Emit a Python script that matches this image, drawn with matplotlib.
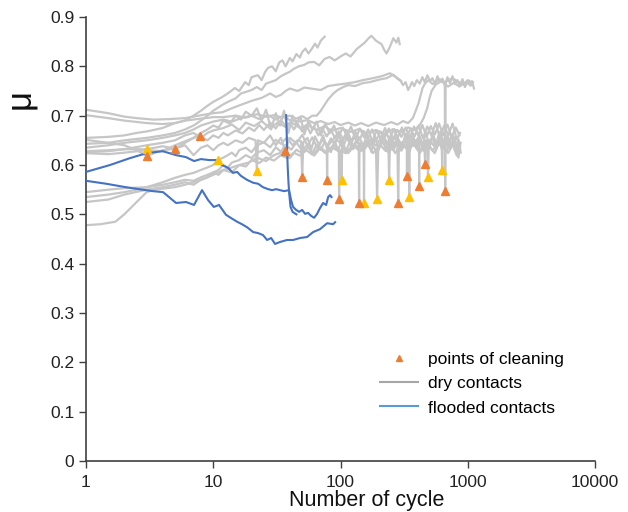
import matplotlib
matplotlib.use("Agg")
import matplotlib.pyplot as plt
from matplotlib.lines import Line2D
from matplotlib.ticker import FixedLocator, NullLocator

plt.rcParams["font.family"] = ["Liberation Sans", "DejaVu Sans"]

# ---- dry contacts (friction coefficient vs. cycle) ----
dry_1_cycles = [1, 1.5, 2, 2.5, 3, 4, 5, 6, 7, 8, 9, 10, 11.8, 13, 14.8, 16, 17.8, 19, 20, 22.4, 24, 25.6, 27, 29, 31, 33, 35, 37, 40, 42, 45, 48, 50, 53, 56, 60, 63, 66, 70, 75]
dry_1_mu = [0.655, 0.657, 0.66, 0.665, 0.668, 0.675, 0.685, 0.69, 0.70, 0.71, 0.72, 0.728, 0.738, 0.745, 0.756, 0.75, 0.768, 0.762, 0.778, 0.782, 0.772, 0.789, 0.797, 0.80, 0.79, 0.808, 0.812, 0.80, 0.817, 0.81, 0.825, 0.818, 0.829, 0.836, 0.826, 0.837, 0.846, 0.838, 0.852, 0.86]

dry_2_cycles = [1, 1.5, 2, 3, 4, 5, 6, 7, 8, 9, 10, 11.8, 13.5, 15, 16.5, 18, 20, 22, 24, 26, 28, 31, 34, 37, 40, 43, 47, 52, 56, 62, 68, 75, 82, 90, 100, 110, 120, 134, 145, 155, 165, 175, 190, 210, 220, 230, 245, 260, 275, 285, 292]
dry_2_mu = [0.643, 0.645, 0.65, 0.655, 0.66, 0.665, 0.672, 0.68, 0.69, 0.70, 0.71, 0.722, 0.73, 0.735, 0.745, 0.748, 0.752, 0.758, 0.752, 0.765, 0.768, 0.772, 0.78, 0.785, 0.789, 0.795, 0.80, 0.803, 0.808, 0.809, 0.802, 0.815, 0.819, 0.812, 0.82, 0.826, 0.82, 0.835, 0.842, 0.848, 0.856, 0.862, 0.852, 0.845, 0.834, 0.826, 0.84, 0.857, 0.848, 0.858, 0.845]

dry_3_cycles = [1, 1.5, 2, 2.5, 3.4, 4.5, 6, 8.5, 10, 11.8, 14, 16.5, 20, 24, 28, 31, 34, 37, 40, 46, 52, 62, 70, 80, 95, 110, 130, 150, 180, 210, 245, 270,
                294, 310, 325, 340, 350, 365, 380, 398, 420, 440, 460, 482, 505, 528, 552, 578, 605, 633, 662, 693, 725, 758, 793, 830,
                868, 908, 950, 994, 1040, 1080, 1120]
dry_3_mu = [0.712, 0.705, 0.698, 0.695, 0.692, 0.693, 0.695, 0.702, 0.705, 0.707, 0.715, 0.722, 0.73, 0.736, 0.745, 0.738, 0.742, 0.75, 0.755, 0.75, 0.757, 0.754, 0.752, 0.76, 0.763, 0.765, 0.768, 0.772, 0.776, 0.78, 0.786, 0.779,
            0.772, 0.762, 0.768, 0.752, 0.758, 0.768, 0.76, 0.772, 0.765, 0.778, 0.768, 0.782, 0.77, 0.776, 0.764, 0.78, 0.768, 0.775, 0.762, 0.778, 0.766, 0.78, 0.764, 0.772,
            0.76, 0.774, 0.758, 0.768, 0.762, 0.77, 0.755]

dry_4_cycles = [1, 1.5, 2, 3, 4, 5, 6, 8, 10, 12, 15, 18, 22, 26, 30, 35, 40, 45, 50, 55, 60, 65, 70, 75, 80, 88, 95, 105, 115, 130, 150, 170, 200, 230, 260, 280, 300]
dry_4_mu = [0.701, 0.695, 0.69, 0.685, 0.683, 0.685, 0.69, 0.694, 0.697, 0.697, 0.70, 0.696, 0.703, 0.698, 0.701, 0.696, 0.70, 0.694, 0.699, 0.693, 0.70, 0.70, 0.71, 0.722, 0.733, 0.745, 0.752, 0.758, 0.762, 0.76, 0.766, 0.768, 0.773, 0.776, 0.783, 0.775, 0.77]

dry_5_cycles = [1, 1.5, 2, 3, 4, 5, 6, 7, 8, 10, 12, 14, 17, 20, 23, 27, 31, 35, 40, 48, 55, 62, 70, 80, 90, 100, 115, 130, 145, 165, 190, 220, 250, 280, 310, 340, 370, 390, 410, 425, 440, 460, 490, 530, 600, 655, 660, 665, 670, 680, 760, 850, 930, 1000, 1050, 1100]
dry_5_mu = [0.635, 0.64, 0.645, 0.65, 0.655, 0.66, 0.665, 0.672, 0.68, 0.688, 0.692, 0.688, 0.696, 0.70, 0.693, 0.701, 0.692, 0.699, 0.691, 0.688, 0.691, 0.685, 0.689, 0.683, 0.687, 0.681, 0.686, 0.68, 0.685, 0.679, 0.686, 0.681, 0.687, 0.682, 0.689, 0.685, 0.695, 0.71, 0.725, 0.74, 0.755, 0.765, 0.772, 0.764, 0.774, 0.768, 0.766, 0.547, 0.765, 0.77, 0.776, 0.768, 0.764, 0.772, 0.761, 0.768]

dry_6_cycles = [1, 1.5, 2, 3, 4, 5, 6, 7, 8, 9, 10, 12, 14, 16, 18, 21, 24, 28, 32, 37, 42, 48, 55, 65, 75, 85, 100, 120, 140, 160, 190, 220, 260, 300, 340, 380, 420, 450, 480, 500, 520, 560, 620, 700, 780, 860, 950, 1030, 1080]
dry_6_mu = [0.626, 0.628, 0.632, 0.64, 0.645, 0.65, 0.66, 0.665, 0.655, 0.665, 0.67, 0.675, 0.682, 0.671, 0.686, 0.679, 0.689, 0.674, 0.686, 0.677, 0.685, 0.675, 0.681, 0.671, 0.679, 0.669, 0.675, 0.667, 0.673, 0.664, 0.671, 0.663, 0.673, 0.667, 0.676, 0.671, 0.681, 0.695, 0.715, 0.735, 0.75, 0.763, 0.77, 0.759, 0.767, 0.759, 0.767, 0.771, 0.762]

dry_7_cycles = [1, 1.5, 2, 3, 4, 5, 6, 7, 8, 9, 10, 10.9, 12, 13, 14, 15, 16, 18, 20, 22, 25, 28, 31, 34, 38, 42, 46,
                49, 50, 51, 55, 59, 63, 68, 73, 78, 84, 90, 97, 104, 112, 120, 129, 135, 139, 140, 141, 150, 161, 173, 186,
                200, 215, 231, 248, 266, 280, 284, 288, 305, 325, 347, 370, 395, 414, 415, 416, 440, 470, 500, 535, 570,
                610, 650, 695, 740, 790, 845, 870]
dry_7_mu = [0.545, 0.55, 0.553, 0.555, 0.565, 0.574, 0.58, 0.584, 0.59, 0.595, 0.60, 0.61, 0.615, 0.62, 0.625, 0.618, 0.63, 0.635, 0.626, 0.64, 0.646, 0.636, 0.651, 0.643, 0.656, 0.64, 0.65,
            0.648, 0.576, 0.646, 0.655, 0.632, 0.658, 0.64, 0.66, 0.636, 0.654, 0.642, 0.662, 0.634, 0.656, 0.64, 0.66, 0.645, 0.645, 0.523, 0.645, 0.635, 0.662, 0.64, 0.658,
            0.632, 0.664, 0.64, 0.66, 0.636, 0.65, 0.523, 0.65, 0.636, 0.664, 0.64, 0.662, 0.636, 0.66, 0.557, 0.66, 0.64, 0.666, 0.636, 0.662, 0.64,
            0.668, 0.634, 0.66, 0.638, 0.656, 0.615, 0.64]

dry_8_cycles = [1, 1.5, 2, 2.5, 3, 4, 5, 6, 7, 8, 9, 10, 11, 12, 13, 14, 16, 18, 20, 22, 25, 28, 31, 34, 37, 41, 45, 50, 55, 60, 65, 70,
                75, 78, 78.5, 79, 84, 90, 96, 103, 110, 118, 126, 135, 144, 152, 153, 154, 164, 175, 187, 200, 214, 229, 245, 262,
                280, 300, 318, 332, 333, 334, 350, 372, 395, 420, 446, 455, 462, 469, 495, 525, 558, 592, 628, 667, 708, 752, 798,
                847, 880]
dry_8_mu = [0.535, 0.54, 0.545, 0.55, 0.555, 0.56, 0.565, 0.57, 0.568, 0.575, 0.58, 0.585, 0.59, 0.60, 0.595, 0.605, 0.61, 0.62, 0.614, 0.625, 0.63, 0.62, 0.636, 0.627, 0.641, 0.631, 0.646, 0.629, 0.641, 0.624, 0.641, 0.631,
            0.646, 0.64, 0.570, 0.64, 0.626, 0.648, 0.63, 0.652, 0.628, 0.646, 0.632, 0.654, 0.628, 0.64, 0.523, 0.64, 0.652, 0.626, 0.656, 0.632, 0.654, 0.628, 0.652, 0.63,
            0.658, 0.634, 0.652, 0.645, 0.578, 0.645, 0.628, 0.656, 0.634, 0.658, 0.63, 0.65, 0.602, 0.65, 0.632, 0.66, 0.636, 0.662, 0.63, 0.66, 0.634, 0.662, 0.628,
            0.652, 0.625]

dry_9_cycles = [1, 1.5, 2, 3, 4, 5, 6, 7, 8, 9, 10, 12, 14, 16, 19, 22, 26, 30, 35, 40, 45, 50, 56, 62, 70, 78, 88, 96, 101, 102, 103, 115, 130, 150, 170, 190, 194, 198, 215, 240, 265, 300, 330, 346, 347, 348, 380, 420, 470, 530, 590, 625, 630, 635, 700, 780, 840, 870]
dry_9_mu = [0.525, 0.53, 0.54, 0.55, 0.555, 0.56, 0.565, 0.56, 0.57, 0.575, 0.58, 0.59, 0.595, 0.60, 0.605, 0.615, 0.608, 0.62, 0.626, 0.614, 0.631, 0.624, 0.636, 0.619, 0.636, 0.624, 0.641, 0.629, 0.63, 0.569, 0.635, 0.624, 0.641, 0.629, 0.646, 0.63, 0.531, 0.635, 0.646, 0.624, 0.646, 0.629, 0.646, 0.635, 0.535, 0.635, 0.641, 0.624, 0.646, 0.629, 0.646, 0.635, 0.59, 0.64, 0.624, 0.646, 0.618, 0.635]

dry_10_cycles = [1, 1.3, 1.7, 2, 2.5, 3, 3.5, 4, 5, 6, 7, 8, 9, 10, 11, 12, 14, 16, 18, 20, 23, 26, 30, 34, 38, 43, 48, 54, 60, 68, 76, 85, 95, 97, 97.5, 98, 110, 125, 140, 160, 180, 205, 225, 238, 241, 244, 270, 300, 340, 380, 430, 480, 487, 494, 550, 610, 680, 750, 820, 870]
dry_10_mu = [0.478, 0.48, 0.485, 0.50, 0.525, 0.545, 0.55, 0.552, 0.555, 0.56, 0.565, 0.57, 0.575, 0.585, 0.58, 0.59, 0.585, 0.60, 0.597, 0.61, 0.604, 0.615, 0.609, 0.62, 0.614, 0.625, 0.619, 0.63, 0.621, 0.635, 0.624, 0.636, 0.629, 0.63, 0.531, 0.63, 0.624, 0.641, 0.629, 0.646, 0.624, 0.641, 0.629, 0.64, 0.57, 0.64, 0.624, 0.646, 0.629, 0.651, 0.629, 0.645, 0.576, 0.64, 0.624, 0.651, 0.629, 0.646, 0.619, 0.64]

dry_11_cycles = [1, 1.5, 2, 3, 4, 5, 6, 7, 7.9, 9, 10, 11, 12, 13, 15, 17, 19, 21, 23, 25, 28, 31, 34, 37,
                 40, 43, 46, 50, 54, 58, 62, 67, 72, 78, 84, 90, 97, 105, 113, 122, 131, 141, 152, 164, 177, 191, 206,
                 222, 240, 259, 279, 301, 325, 350, 378, 408, 440, 475, 512, 552, 595, 642, 692, 746, 805, 860]
dry_11_mu = [0.628, 0.63, 0.632, 0.632, 0.638, 0.633, 0.645, 0.655, 0.659, 0.65, 0.66, 0.655, 0.665, 0.66, 0.67, 0.664, 0.676, 0.669, 0.681, 0.671, 0.686, 0.674, 0.691, 0.679,
             0.686, 0.672, 0.684, 0.668, 0.681, 0.664, 0.678, 0.66, 0.674, 0.658, 0.672, 0.655, 0.668, 0.652, 0.67, 0.648, 0.667, 0.651, 0.669, 0.653, 0.672, 0.65, 0.668,
             0.655, 0.674, 0.652, 0.671, 0.657, 0.676, 0.655, 0.678, 0.66, 0.681, 0.657, 0.679, 0.662, 0.684, 0.66, 0.682, 0.656, 0.676, 0.66]

dry_12_cycles = [1, 1.5, 2, 2.5, 3, 3.5, 4, 5, 6, 7, 8, 9, 10, 11, 12, 13, 15, 17, 19, 21.5, 22, 22.5, 25, 28, 31, 34, 36.7, 40, 45, 50, 55, 60, 66, 72, 80, 90, 100, 112, 125, 140, 155, 170, 190, 215, 240, 270, 300, 330, 370, 410, 450, 500, 560, 620, 690, 760, 830, 880]
dry_12_mu = [0.651, 0.645, 0.64, 0.63, 0.618, 0.625, 0.63, 0.633, 0.64, 0.62, 0.635, 0.64, 0.63, 0.64, 0.645, 0.64, 0.65, 0.645, 0.655, 0.65, 0.588, 0.65, 0.645, 0.66, 0.64, 0.655, 0.629, 0.655, 0.644, 0.661, 0.639, 0.656, 0.634, 0.651, 0.639, 0.656, 0.644, 0.661, 0.639, 0.656, 0.634, 0.651, 0.639, 0.661, 0.639, 0.656, 0.634, 0.661, 0.639, 0.656, 0.629, 0.651, 0.634, 0.656, 0.639, 0.661, 0.634, 0.645]

dry_13_cycles = [1, 1.5, 2, 3, 4, 5, 6, 7, 8, 9, 10, 11, 12, 13.5, 15, 16.5, 18, 20, 22, 24, 26, 28.5, 31, 33.5, 36, 39, 42, 45, 48.5, 52,
                 56, 60, 65, 70, 76, 82, 89, 96, 104, 112, 121, 131, 142, 153, 165, 178, 192, 207, 224, 242, 261, 282, 304, 328, 354,
                 382, 412, 445, 480, 518, 560, 604, 652, 704, 760, 820, 870]
dry_13_mu = [0.624, 0.622, 0.625, 0.63, 0.628, 0.64, 0.648, 0.655, 0.665, 0.672, 0.68, 0.676, 0.69, 0.684, 0.70, 0.692, 0.708, 0.70, 0.715, 0.69, 0.712, 0.672, 0.705, 0.68, 0.71, 0.665, 0.70, 0.684, 0.698, 0.662,
             0.69, 0.672, 0.688, 0.66, 0.684, 0.664, 0.68, 0.655, 0.676, 0.66, 0.678, 0.652, 0.674, 0.656, 0.672, 0.648, 0.67, 0.654, 0.675, 0.65, 0.672, 0.656, 0.676, 0.652, 0.674,
             0.658, 0.68, 0.654, 0.678, 0.66, 0.685, 0.655, 0.68, 0.66, 0.684, 0.652, 0.665]

# ---- flooded contacts ----
flood_a_cycles = [1, 1.545, 2.22, 3.0, 4.0, 5.1, 6.1, 7.06, 8.0, 9.3, 10.5, 11.7, 13.1, 14.3, 15.4, 16.5, 18.4, 20.6, 22.5, 24.6, 27.0, 29.0, 31.2, 33.5, 36.0, 39.4, 40.9, 42.4, 44.8, 47.3, 49.9, 52.7, 55.6, 58.7, 62.0, 65.5, 69.1, 73.0, 77.1, 80.0, 82.8, 85.0]
flood_a_mu = [0.586, 0.600, 0.614, 0.624, 0.628, 0.620, 0.616, 0.608, 0.612, 0.610, 0.610, 0.600, 0.594, 0.584, 0.586, 0.578, 0.570, 0.564, 0.562, 0.555, 0.551, 0.549, 0.551, 0.549, 0.547, 0.549, 0.529, 0.515, 0.509, 0.505, 0.509, 0.501, 0.503, 0.497, 0.493, 0.501, 0.513, 0.523, 0.519, 0.535, 0.539, 0.535]

flood_b_cycles = [1, 1.44, 2.06, 2.61, 3.36, 4.03, 4.49, 5.10, 6.11, 7.06, 8.16, 9.1, 10.1, 11.1, 12.6, 14.1, 15.4, 16.8, 18.4, 20.6, 22.5, 24.6, 26.5, 28.5, 30.6, 33.5, 38.0, 42.4, 48.1, 54.6, 60.9, 69.1, 78.5, 87.5, 90.7]
flood_b_mu = [0.568, 0.562, 0.555, 0.551, 0.547, 0.545, 0.535, 0.523, 0.525, 0.519, 0.549, 0.529, 0.515, 0.519, 0.499, 0.491, 0.485, 0.480, 0.474, 0.464, 0.462, 0.458, 0.448, 0.452, 0.440, 0.444, 0.448, 0.448, 0.452, 0.454, 0.464, 0.470, 0.482, 0.480, 0.484]

flood_c_cycles = [37.4, 37.9, 38.4, 39.0, 39.6, 40.5, 42.0, 45.0]
flood_c_mu = [0.701, 0.650, 0.600, 0.565, 0.540, 0.515, 0.505, 0.500]

# ---- points of cleaning ----
clean_orange_cycles = [3.0, 5.0, 7.9, 36.7, 50, 78.5, 97.5, 140, 284, 333, 415, 462, 665]
clean_orange_mu = [0.618, 0.633, 0.659, 0.629, 0.576, 0.570, 0.531, 0.523, 0.523, 0.578, 0.557, 0.602, 0.547]
clean_yellow_cycles = [3.0, 10.9, 22, 102, 153, 194, 241, 347, 487, 630]
clean_yellow_mu = [0.632, 0.610, 0.588, 0.569, 0.523, 0.531, 0.570, 0.535, 0.576, 0.590]

x_ticks = [1, 10, 100, 1000, 10000]
x_tick_labels = ["1", "10", "100", "1000", "10000"]
y_ticks = [0, 0.1, 0.2, 0.3, 0.4, 0.5, 0.6, 0.7, 0.8, 0.9]
y_tick_labels = ["0", "0.1", "0.2", "0.3", "0.4", "0.5", "0.6", "0.7", "0.8", "0.9"]

GRAY = "#c6c6c6"
BLUE = "#4472c4"
ORANGE = "#ed7d31"
YELLOW = "#ffc000"

fig = plt.figure(figsize=(6.28, 5.12), dpi=100)
ax = fig.add_axes([86 / 628, 51 / 512, 509 / 628, 444 / 512])

dry_series = [
    (dry_1_cycles, dry_1_mu), (dry_2_cycles, dry_2_mu), (dry_3_cycles, dry_3_mu),
    (dry_4_cycles, dry_4_mu), (dry_5_cycles, dry_5_mu), (dry_6_cycles, dry_6_mu),
    (dry_7_cycles, dry_7_mu), (dry_8_cycles, dry_8_mu), (dry_9_cycles, dry_9_mu),
    (dry_10_cycles, dry_10_mu), (dry_11_cycles, dry_11_mu), (dry_12_cycles, dry_12_mu),
    (dry_13_cycles, dry_13_mu),
]
for cx, cy in dry_series:
    ax.plot(cx, cy, color=GRAY, lw=1.6, solid_joinstyle="round", zorder=2)

for cx, cy in [(flood_a_cycles, flood_a_mu), (flood_b_cycles, flood_b_mu), (flood_c_cycles, flood_c_mu)]:
    ax.plot(cx, cy, color=BLUE, lw=1.5, zorder=3)

ax.plot(clean_yellow_cycles, clean_yellow_mu, ls="none", marker="^", ms=6,
        color=YELLOW, mec=YELLOW, zorder=4)
ax.plot(clean_orange_cycles, clean_orange_mu, ls="none", marker="^", ms=6,
        color=ORANGE, mec=ORANGE, zorder=5)

ax.set_xscale("log")
ax.set_xlim(1, 10000)
ax.set_ylim(0, 0.9)
ax.xaxis.set_major_locator(FixedLocator(x_ticks))
ax.xaxis.set_minor_locator(NullLocator())
ax.set_xticklabels(x_tick_labels)
ax.set_yticks(y_ticks)
ax.set_yticklabels(y_tick_labels)
ax.tick_params(axis="both", labelsize=12.5, length=5, width=1, color="#404040",
               labelcolor="#222222", direction="out")
ax.tick_params(axis="x", pad=5)

for side in ("top", "right"):
    ax.spines[side].set_visible(False)
for side in ("left", "bottom"):
    ax.spines[side].set_color("#404040")
    ax.spines[side].set_linewidth(1.2)

ax.set_xlabel("Number of cycle", fontsize=15.5, color="#111111", labelpad=0, x=0.552)
ax.set_ylabel("μ", fontsize=25, rotation=90, color="#111111")
ax.yaxis.set_label_coords(-0.098, 0.815)

handles = [
    Line2D([], [], ls="none", marker="^", ms=5, color=ORANGE),
    Line2D([], [], color="#a6a6a6", lw=1.5),
    Line2D([], [], color="#5b9bd5", lw=1.5),
]
fig.legend(handles, ["points of cleaning", "dry contacts", "flooded contacts"],
           loc="upper left", bbox_to_anchor=(380 / 628, 1 - 352 / 512),
           frameon=False, fontsize=12.5, handlelength=2.2, handletextpad=0.55,
           labelspacing=0.52, borderpad=0, borderaxespad=0)

fig.savefig("out.png", dpi=100)
